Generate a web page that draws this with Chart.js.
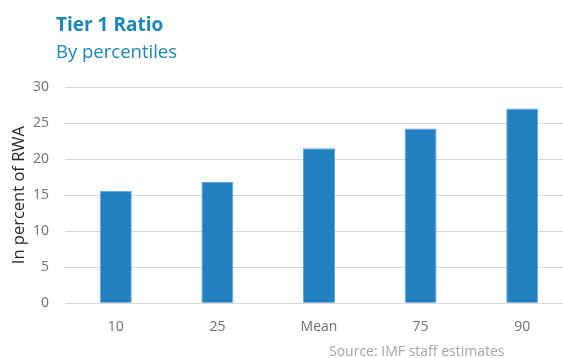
<!DOCTYPE html>
<html><head><meta charset="utf-8">
<script src="https://cdn.jsdelivr.net/npm/chart.js@4"></script>
<style>
html,body{margin:0;padding:0;width:563px;height:358px;overflow:hidden;background:#fff;}
#wrap{position:absolute;left:0;top:0;width:573px;height:358px;}
.t{position:absolute;white-space:nowrap;font-family:"Open Sans",sans-serif;}
#title{left:56px;top:11px;font-size:19px;font-weight:bold;color:#1a86b6;}
#sub{left:56px;top:38px;font-size:18.5px;color:#1a86b6;}
#src{left:329px;top:341px;font-size:14px;color:#a5a5a5;}
</style></head>
<body>
<div id="wrap"><canvas id="c"></canvas></div>
<div class="t" id="title">Tier 1 Ratio</div>
<div class="t" id="sub">By percentiles</div>
<div class="t" id="src">Source: IMF staff estimates</div>
<script>
const categories = ["10", "25", "Mean", "75", "90"];
const tier1Ratio = [15.6, 16.85, 21.5, 24.25, 27.0];
const yTicks = [0, 5, 10, 15, 20, 25, 30];

new Chart(document.getElementById('c'), {
  type: 'bar',
  data: {
    labels: categories,
    datasets: [{
      data: tier1Ratio,
      backgroundColor: '#2280c1',
      borderColor: '#62a6db',
      borderWidth: 1,
      categoryPercentage: 1,
      barPercentage: 0.315
    }]
  },
  options: {
    responsive: true,
    maintainAspectRatio: false,
    animation: false,
    layout: { padding: { top: 87, bottom: 8, left: 8, right: 0 } },
    plugins: { legend: { display: false }, tooltip: { enabled: false } },
    scales: {
      x: {
        grid: { display: false, drawTicks: false },
        border: { display: false },
        ticks: { color: '#6f6f6f', font: { family: 'Open Sans', size: 14 }, padding: 15 }
      },
      y: {
        min: 0, max: 30,
        afterBuildTicks: s => { s.ticks = yTicks.map(v => ({ value: v })); },
        afterFit: s => { s.width = 57; },
        grid: { color: '#d9d9d9', lineWidth: 1, drawTicks: false },
        border: { display: false },
        ticks: { color: '#6f6f6f', font: { family: 'Open Sans', size: 14 }, padding: 16 },
        title: { display: true, text: 'In percent of RWA', color: '#262626', font: { family: 'Open Sans', size: 16.5 }, padding: { top: 1, bottom: 0 } }
      }
    }
  }
});
</script>
</body></html>
